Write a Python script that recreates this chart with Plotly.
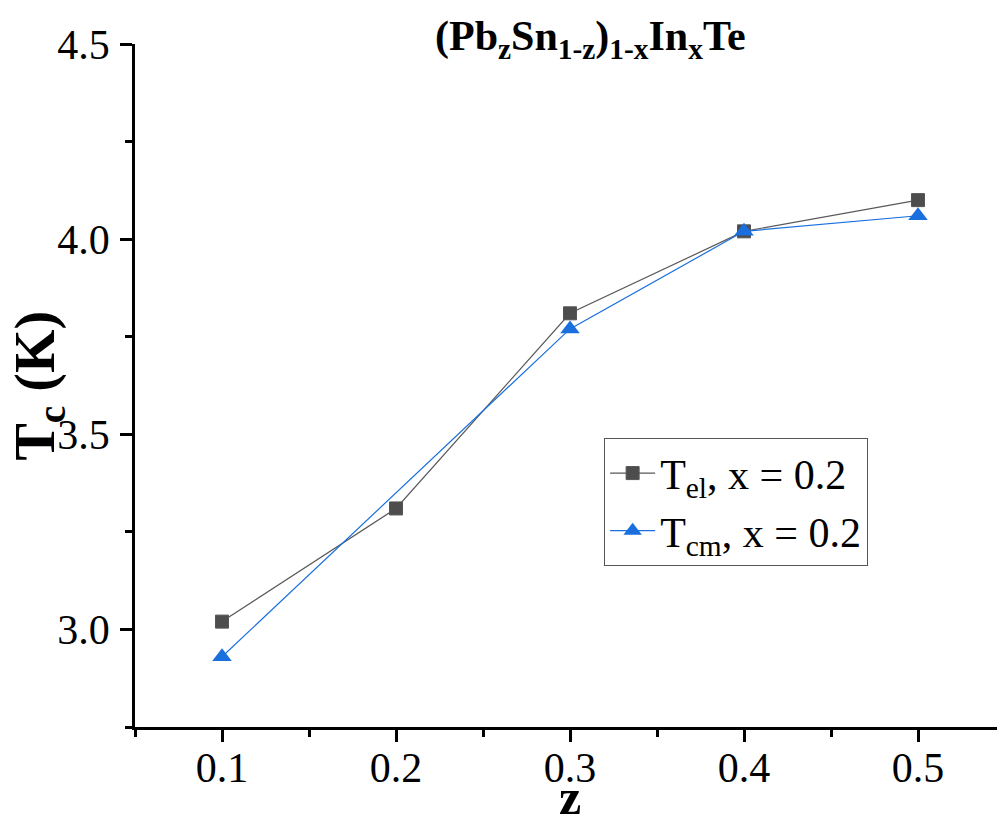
import plotly.graph_objects as go

z_el = [0.1, 0.2, 0.3, 0.4, 0.5]
tc_el = [3.02, 3.31, 3.81, 4.02, 4.10]
z_cm = [0.1, 0.3, 0.4, 0.5]
tc_cm = [2.93, 3.77, 4.02, 4.06]

x_ticks = [0.1, 0.2, 0.3, 0.4, 0.5]
x_ticklabels = ["0.1", "0.2", "0.3", "0.4", "0.5"]
y_ticks = [3.0, 3.5, 4.0, 4.5]
y_ticklabels = ["3.0", "3.5", "4.0", "4.5"]

FONT = "Liberation Serif"

fig = go.Figure()
fig.add_trace(go.Scatter(
    x=z_el, y=tc_el, mode="lines+markers",
    name="T<sub>el</sub>, x = 0.2",
    line=dict(color="#595959", width=1.2),
    marker=dict(symbol="square", size=13, color="#4d4d4d",
                line=dict(color="#555555", width=1)),
))
fig.add_trace(go.Scatter(
    x=z_cm, y=tc_cm, mode="lines+markers",
    name="T<sub>cm</sub>, x = 0.2",
    line=dict(color="#1a6fdf", width=1.2),
    marker=dict(symbol="triangle-up", size=17, color="#1a6fdf",
                line=dict(color="#1a6fdf", width=0)),
))

axis_common = dict(
    showline=True, linecolor="black", linewidth=2.5,
    ticks="outside", ticklen=12, tickwidth=2.5, tickcolor="black",
    showgrid=False, zeroline=False, mirror=False,
    tickfont=dict(family=FONT, size=42, color="black"),
)

fig.update_xaxes(
    range=[0.05, 0.5454], tickvals=x_ticks, ticktext=x_ticklabels,
    minor=dict(ticks="outside", ticklen=7, tickwidth=2.5, tickcolor="black",
               dtick=0.05, tick0=0.05),
    ticklabelstandoff=-10,
    **axis_common,
)
fig.update_yaxes(
    range=[2.75, 4.5], tickvals=y_ticks, ticktext=y_ticklabels,
    minor=dict(ticks="outside", ticklen=7, tickwidth=2.5, tickcolor="black",
               dtick=0.25, tick0=2.75),
    ticklabelstandoff=2,
    **axis_common,
)

fig.update_layout(
    width=997, height=822,
    margin=dict(l=135, r=0, t=44, b=95),
    paper_bgcolor="white", plot_bgcolor="white",
    showlegend=True,
    legend=dict(
        x=0.544, y=0.423, xanchor="left", yanchor="top",
        bordercolor="#555555", borderwidth=1.2, bgcolor="white",
        font=dict(family=FONT, size=42, color="black"),
        tracegroupgap=0, itemwidth=45,
    ),
    annotations=[
        dict(text="<b>(Pb<sub>z</sub>Sn<sub>1-z</sub>)<sub>1-x</sub>In<sub>x</sub>Te</b>",
             xref="paper", yref="paper", x=0.528, y=1.0, xanchor="center", yanchor="middle",
             yshift=5, showarrow=False,
             font=dict(family=FONT, size=42, color="black")),
        dict(text="<b>T<sub>c</sub> (K)</b>", textangle=-90,
             xref="paper", yref="paper", x=0, xshift=-97, y=0.5, yshift=0,
             xanchor="center", yanchor="middle", showarrow=False,
             font=dict(family=FONT, size=56, color="black")),
        dict(text="<b>z</b>", xref="paper", yref="paper", x=0.505, y=0, yshift=-70,
             xanchor="center", yanchor="middle", showarrow=False,
             font=dict(family=FONT, size=50, color="black")),
    ],
)

fig.write_html("out.html")
